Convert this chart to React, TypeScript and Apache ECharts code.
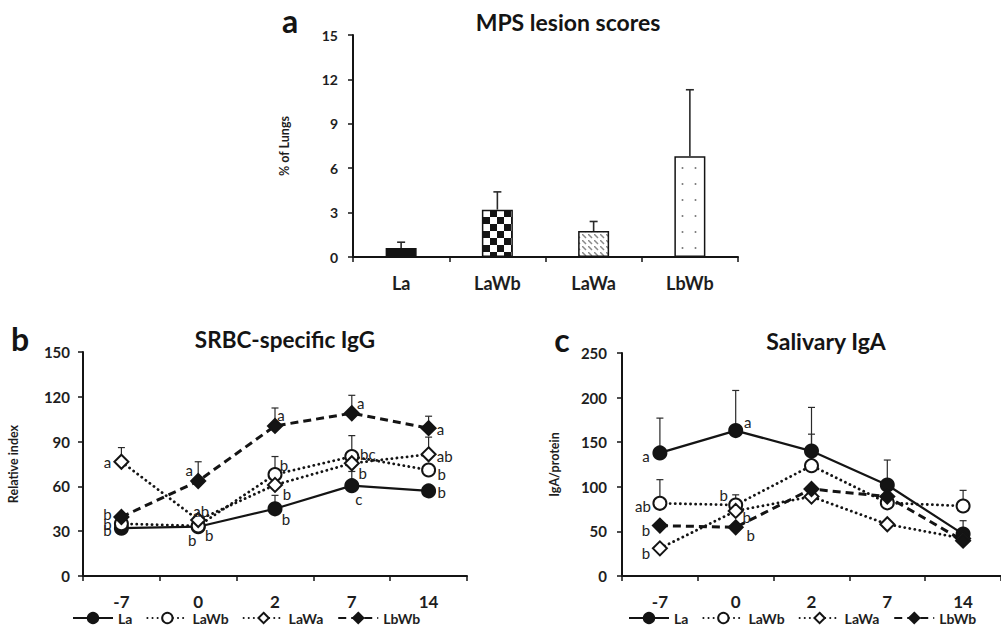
import React, { useEffect, useRef } from 'react';
import * as echarts from 'echarts';

// ---------- Panel a: MPS lesion scores ----------
const lesionGroups = ['La', 'LaWb', 'LaWa', 'LbWb'];
const lesionMean = [0.6, 3.2, 1.75, 6.8];
const lesionUpper = [1.0, 4.4, 2.4, 11.3];

// ---------- Panels b & c ----------
const days = ['-7', '0', '2', '7', '14'];
const groups = ['La', 'LaWb', 'LaWa', 'LbWb'];

// b: SRBC-specific IgG (relative index)
const iggLa = [32, 33, 45, 60.5, 57];
const iggLaWb = [35, 33.5, 68, 80, 71];
const iggLaWa = [76.5, 37.5, 61, 75.5, 81.5];
const iggLbWb = [39.5, 63.6, 100.5, 109, 99];
const iggLaUpper = [null, null, 54, 70, null];
const iggLaWbUpper = [null, null, 80, 94, null];
const iggLaWaUpper = [86, null, null, null, 93];
const iggLbWbUpper = [null, 76.5, 112.5, 121, 107];
const iggLaLetters = ['b', 'b', 'b', 'c', 'b'];
const iggLaWbLetters = ['b', 'b', 'b', 'bc', 'b'];
const iggLaWaLetters = ['a', 'ab', 'b', 'b', 'ab'];
const iggLbWbLetters = ['b', 'a', 'a', 'a', 'a'];

// c: Salivary IgA (IgA/protein)
const igaLa = [138, 163, 140, 102, 47];
const igaLaWb = [81.5, 79.6, 123.7, 82, 78.5];
const igaLaWa = [31, 73, 89, 58, 42];
const igaLbWb = [56.5, 54.6, 97.5, 89, 39.6];
const igaLaUpper = [177, 208, 189, 130, 62];
const igaLaWbUpper = [108, 91, 159, null, 96];
const igaLaWaUpper = [null, null, null, null, null];
const igaLbWbUpper = [null, null, null, null, null];
const igaLaLetters = ['a', 'a', null, null, null];
const igaLaWbLetters = ['ab', 'b', null, null, null];
const igaLaWaLetters = ['b', 'b', null, null, null];
const igaLbWbLetters = ['b', 'b', null, null, null];

// ---------- styles (not data) ----------
const INK = '#141414';
const FONT = 'Lato';

const groupStyle: Record<string, any> = {
  La: { symbol: 'circle', size: 13, fill: INK, type: 'solid', width: 2.2, cap: 'butt' },
  LaWb: { symbol: 'circle', size: 13, fill: '#fff', type: [0.1, 5], width: 2.8, cap: 'round' },
  LaWa: { symbol: 'diamond', size: 14, fill: '#fff', type: [0.1, 5], width: 2.8, cap: 'round' },
  LbWb: { symbol: 'diamond', size: 14, fill: INK, type: [8, 5], width: 3, cap: 'butt' },
};

// label offsets [dx, dy] relative to the marker centre, per group per day
const iggOffsets: Record<string, number[][]> = {
  La: [[-14, 2], [-6, 13], [11, 10], [7, 13], [13, 1]],
  LaWb: [[-14, 0], [11, 9], [9, -9], [16, -3], [13, 4]],
  LaWa: [[-14, 0], [3, -9], [12, 9], [11, 10], [16, 2]],
  LbWb: [[-14, -3], [-9, -11], [6, -11], [9, -10], [12, 1]],
};
const igaOffsets: Record<string, number[][]> = {
  La: [[-14, 3], [12, -9], [0, 0], [0, 0], [0, 0]],
  LaWb: [[-17, 3], [-12, -10], [0, 0], [0, 0], [0, 0]],
  LaWa: [[-14, 5], [11, 6], [0, 0], [0, 0], [0, 0]],
  LbWb: [[-14, 4], [15, 8], [0, 0], [0, 0], [0, 0]],
};

function makeTile(w: number, h: number, draw: (ctx: CanvasRenderingContext2D) => void) {
  const c = document.createElement('canvas');
  c.width = w;
  c.height = h;
  const ctx = c.getContext('2d') as CanvasRenderingContext2D;
  ctx.fillStyle = '#fff';
  ctx.fillRect(0, 0, w, h);
  draw(ctx);
  return { image: c.toDataURL(), repeat: 'repeat', imageWidth: w, imageHeight: h };
}

function errorRender(capHalf: number, lw: number) {
  return (params: any, api: any) => {
    const x = api.value(0);
    const p0 = api.coord([x, api.value(1)]);
    const p1 = api.coord([x, api.value(2)]);
    return {
      type: 'group',
      children: [
        { type: 'line', shape: { x1: p0[0], y1: p0[1], x2: p1[0], y2: p1[1] }, style: { stroke: '#2a2a2a', lineWidth: lw } },
        { type: 'line', shape: { x1: p1[0] - capHalf, y1: p1[1], x2: p1[0] + capHalf, y2: p1[1] }, style: { stroke: '#2a2a2a', lineWidth: lw } },
      ],
    };
  };
}

export default function App() {
  const ref = useRef<HTMLDivElement>(null);

  useEffect(() => {
    if (!ref.current) return;
    const chart = echarts.init(ref.current, undefined, { renderer: 'svg' });

    const checker = makeTile(14, 14, (ctx) => {
      ctx.fillStyle = INK;
      ctx.fillRect(0, 0, 7, 7);
      ctx.fillRect(7, 7, 7, 7);
    });
    const hatch = makeTile(6, 6, (ctx) => {
      ctx.strokeStyle = '#8a8a8a';
      ctx.lineWidth = 1.5;
      ctx.beginPath();
      ctx.moveTo(0, 0);
      ctx.lineTo(4, 4);
      ctx.stroke();
    });
    const dots = makeTile(13, 16, (ctx) => {
      ctx.fillStyle = '#777';
      ctx.beginPath();
      ctx.arc(6.5, 8, 1, 0, Math.PI * 2);
      ctx.fill();
    });
    const barFills = [INK, checker, hatch, dots];

    const axisLine = { show: true, lineStyle: { color: INK, width: 2 } };
    const axisTick = { show: true, length: 5, lineStyle: { color: INK, width: 1.5 } };
    const tickFont = (size: number) => ({ fontFamily: FONT, fontWeight: 'bold', fontSize: size, color: '#1e1e1e' });
    const nameFont = { fontFamily: FONT, fontWeight: 'bold', fontSize: 12.5, color: '#1e1e1e' };
    const legendText = { fontFamily: FONT, fontWeight: 'bold', fontSize: 14, color: '#1e1e1e' };

    const iggSets: Record<string, any> = {
      La: [iggLa, iggLaUpper, iggLaLetters],
      LaWb: [iggLaWb, iggLaWbUpper, iggLaWbLetters],
      LaWa: [iggLaWa, iggLaWaUpper, iggLaWaLetters],
      LbWb: [iggLbWb, iggLbWbUpper, iggLbWbLetters],
    };
    const igaSets: Record<string, any> = {
      La: [igaLa, igaLaUpper, igaLaLetters],
      LaWb: [igaLaWb, igaLaWbUpper, igaLaWbLetters],
      LaWa: [igaLaWa, igaLaWaUpper, igaLaWaLetters],
      LbWb: [igaLbWb, igaLbWbUpper, igaLbWbLetters],
    };

    const lineSeries = (sets: Record<string, any>, offsets: Record<string, number[][]>, axisIdx: number) =>
      groups.map((g) => {
        const st = groupStyle[g];
        const [vals, , letters] = sets[g];
        return {
          type: 'line',
          name: g,
          xAxisIndex: axisIdx,
          yAxisIndex: axisIdx,
          symbol: st.symbol,
          symbolSize: st.size,
          z: 3,
          lineStyle: { color: INK, width: st.width, type: st.type, cap: st.cap },
          itemStyle: { color: st.fill, borderColor: INK, borderWidth: 2 },
          data: vals.map((v: number, i: number) => {
            const letter = letters[i];
            if (!letter) return v;
            return {
              value: v,
              label: {
                show: true,
                position: 'inside',
                offset: offsets[g][i],
                formatter: letter,
                fontFamily: FONT,
                fontSize: 15,
                color: '#222',
              },
            };
          }),
        };
      });

    const errData = (sets: Record<string, any>) => {
      const out: number[][] = [];
      groups.forEach((g) => {
        const [vals, upper] = sets[g];
        upper.forEach((u: number | null, i: number) => {
          if (u != null) out.push([i, vals[i], u]);
        });
      });
      return out;
    };

    const textEl = (x: number, y: number, text: string, size: number) => ({
      type: 'text', x, y,
      style: { text, font: `bold ${size}px ${FONT}`, fill: INK, textAlign: 'center', textVerticalAlign: 'middle', align: 'center', verticalAlign: 'middle' },
    });

    const option: any = {
      animation: false,
      backgroundColor: '#fff',
      grid: [
        { left: 353, top: 35, width: 385, height: 222 },
        { left: 83, top: 352, width: 384, height: 224 },
        { left: 622, top: 353, width: 387, height: 223 },
      ],
      xAxis: [
        { gridIndex: 0, type: 'category', data: lesionGroups, axisLine, axisTick, axisLabel: { margin: 17, ...tickFont(18) } },
        { gridIndex: 1, type: 'category', data: days, axisLine, axisTick, axisLabel: { margin: 17, ...tickFont(17) } },
        { gridIndex: 2, type: 'category', data: days, axisLine, axisTick, axisLabel: { margin: 17, ...tickFont(17) } },
      ],
      yAxis: [
        {
          gridIndex: 0, type: 'value', min: 0, max: 15, interval: 3, splitLine: { show: false }, axisLine, axisTick,
          axisLabel: { margin: 15, ...tickFont(14) }, name: '% of Lungs', nameLocation: 'middle', nameGap: 62, nameTextStyle: nameFont,
        },
        {
          gridIndex: 1, type: 'value', min: 0, max: 150, interval: 30, splitLine: { show: false }, axisLine, axisTick,
          axisLabel: { margin: 13, ...tickFont(15) }, name: 'Relative index', nameLocation: 'middle', nameGap: 63, nameTextStyle: nameFont,
        },
        {
          gridIndex: 2, type: 'value', min: 0, max: 250, interval: 50, splitLine: { show: false }, axisLine, axisTick,
          axisLabel: { margin: 15, ...tickFont(15) }, name: 'IgA/protein', nameLocation: 'middle', nameGap: 61, nameTextStyle: nameFont,
        },
      ],
      legend: [
        { data: groups, left: 72, top: 611, padding: 0, itemWidth: 40, itemHeight: 13, itemGap: 14, textStyle: legendText },
        { data: groups, left: 628, top: 611, padding: 0, itemWidth: 40, itemHeight: 13, itemGap: 14, textStyle: legendText },
      ],
      graphic: [
        textEl(290, 20, 'a', 32),
        textEl(568, 22, 'MPS lesion scores', 23),
        textEl(20, 338, 'b', 32),
        textEl(285, 339, 'SRBC-specific IgG', 22.5),
        textEl(562, 339, 'c', 32),
        textEl(826, 341, 'Salivary IgA', 23),
      ],
      series: [
        {
          type: 'bar',
          name: 'MPS lesion',
          xAxisIndex: 0,
          yAxisIndex: 0,
          barWidth: 31,
          z: 2,
          data: lesionMean.map((v, i) => ({
            value: v,
            itemStyle: { color: barFills[i], borderColor: INK, borderWidth: 1.5 },
          })),
        },
        {
          type: 'custom',
          name: 'lesionErr',
          xAxisIndex: 0,
          yAxisIndex: 0,
          z: 3,
          encode: { x: 0, y: [1, 2] },
          renderItem: errorRender(4, 1.6),
          data: lesionMean.map((v, i) => [i, v, lesionUpper[i]]),
        },
        {
          type: 'custom',
          name: 'iggErr',
          xAxisIndex: 1,
          yAxisIndex: 1,
          z: 1,
          encode: { x: 0, y: [1, 2] },
          renderItem: errorRender(3.5, 1.2),
          data: errData(iggSets),
        },
        {
          type: 'custom',
          name: 'igaErr',
          xAxisIndex: 2,
          yAxisIndex: 2,
          z: 1,
          encode: { x: 0, y: [1, 2] },
          renderItem: errorRender(3.5, 1.2),
          data: errData(igaSets),
        },
        ...lineSeries(iggSets, iggOffsets, 1),
        ...lineSeries(igaSets, igaOffsets, 2),
      ],
    };

    chart.setOption(option);
    return () => chart.dispose();
  }, []);

  return <div ref={ref} style={{ position: 'fixed', left: 0, top: 0, width: 1001, height: 629, background: '#fff' }} />;
}
